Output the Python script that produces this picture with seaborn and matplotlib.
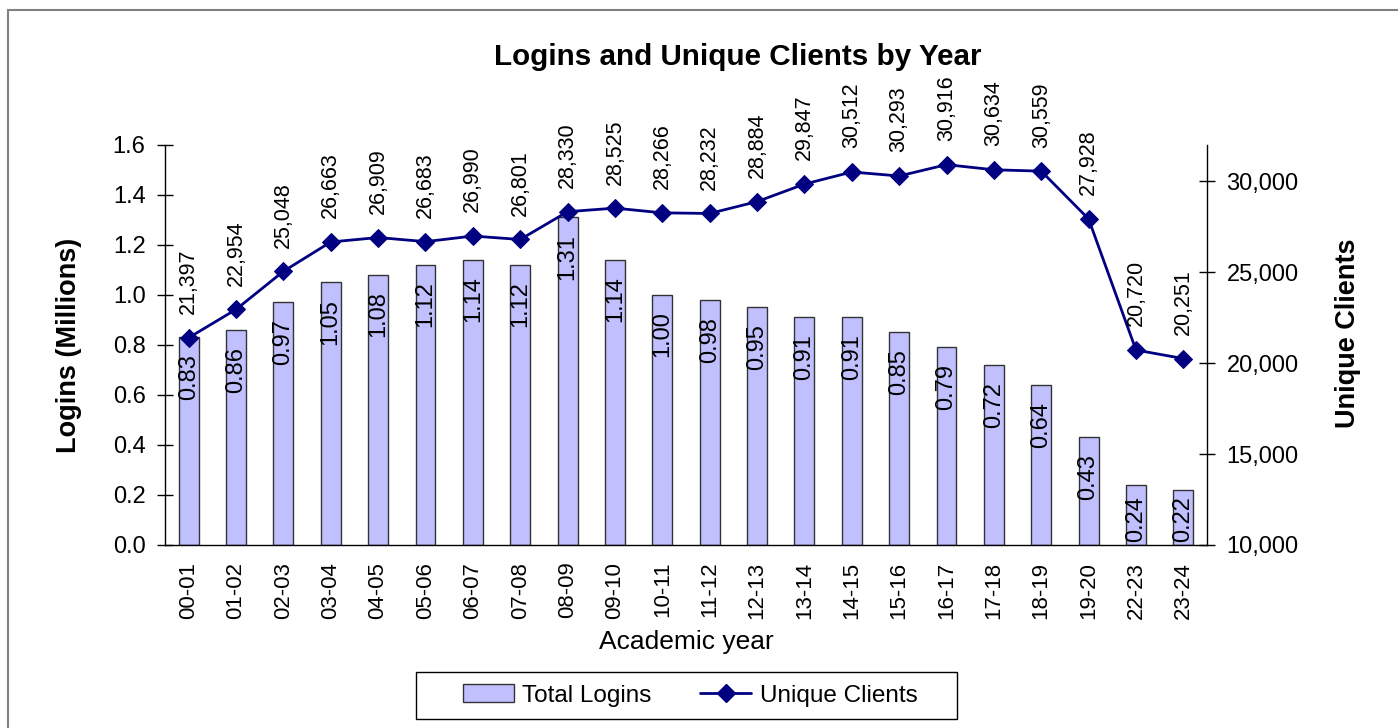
import numpy as np
import pandas as pd
import matplotlib.pyplot as plt
import seaborn as sns
from matplotlib.patches import Rectangle, Patch
from matplotlib.lines import Line2D

# data
years = ['00-01', '01-02', '02-03', '03-04', '04-05', '05-06', '06-07', '07-08',
         '08-09', '09-10', '10-11', '11-12', '12-13', '13-14', '14-15', '15-16',
         '16-17', '17-18', '18-19', '19-20', '22-23', '23-24']
logins = [0.83, 0.86, 0.97, 1.05, 1.08, 1.12, 1.14, 1.12, 1.31, 1.14, 1.00,
          0.98, 0.95, 0.91, 0.91, 0.85, 0.79, 0.72, 0.64, 0.43, 0.24, 0.22]
clients = [21397, 22954, 25048, 26663, 26909, 26683, 26990, 26801, 28330, 28525,
           28266, 28232, 28884, 29847, 30512, 30293, 30916, 30634, 30559, 27928,
           20720, 20251]

df = pd.DataFrame({'year': years, 'logins': logins, 'clients': clients})
df['pos'] = np.arange(len(df))

bar_color = '#C0C0FF'
line_color = '#000080'

sns.set_style('white')
plt.rcParams['font.family'] = ['Liberation Sans', 'DejaVu Sans']
plt.rcParams['text.color'] = 'black'
plt.rcParams['axes.labelcolor'] = 'black'
plt.rcParams['xtick.color'] = 'black'
plt.rcParams['ytick.color'] = 'black'

fig = plt.figure(figsize=(13.98, 7.28), dpi=100)
ax = fig.add_axes([0.118, 0.2514, 0.7454, 0.5495])

# bars for total logins
sns.barplot(data=df, x='year', y='logins', color=bar_color, saturation=1,
            edgecolor='#333333', linewidth=1, width=0.42, ax=ax)
for i, v in enumerate(logins):
    if v < 0.3:
        # short bars: label sits on the base so it stays inside the bar
        ax.annotate(f'{v:.2f}', (i, 0), xytext=(0, 2), textcoords='offset points',
                    rotation=90, ha='center', va='bottom', fontsize=17)
    else:
        ax.annotate(f'{v:.2f}', (i, v), xytext=(0, -12), textcoords='offset points',
                    rotation=90, ha='center', va='top', fontsize=17)

ax.set_ylim(0, 1.6)
ax.set_yticks(np.arange(0, 1.61, 0.2))
ax.set_yticklabels([f'{t:.1f}' for t in np.arange(0, 1.61, 0.2)], fontsize=17)
ax.set_xlim(-0.5, len(years) - 0.5)
ax.set_xticks(range(len(years)))
ax.set_xticklabels(years, rotation=90, fontsize=16)
ax.set_xticks(np.arange(-0.5, len(years), 1), minor=True)
ax.tick_params(axis='x', which='major', length=0, pad=12)
ax.tick_params(axis='x', which='minor', length=12, direction='inout', width=1)
ax.tick_params(axis='y', length=12, direction='inout', width=1, pad=8)

ax.set_ylabel('Logins (Millions)', fontsize=19.5, weight='bold', va='center')
ax.yaxis.set_label_coords(-0.092, 0.5)
ax.set_xlabel('Academic year', fontsize=19, va='center')
ax.xaxis.set_label_coords(0.5, -0.2425)

# line for unique clients on the right axis
ax2 = ax.twinx()
sns.lineplot(data=df, x='pos', y='clients', color=line_color, marker='D',
             markersize=9, markeredgecolor=line_color, linewidth=2, ax=ax2)
for i, v in enumerate(clients):
    ax2.annotate(f'{v:,}', (i, v), xytext=(0, 17), textcoords='offset points',
                 rotation=90, ha='center', va='bottom', fontsize=15.5)

ax2.set_ylim(10000, 32000)
ax2.set_yticks(range(10000, 30001, 5000))
ax2.set_yticklabels([f'{t:,}' for t in range(10000, 30001, 5000)], fontsize=17)
ax2.tick_params(axis='y', length=12, direction='inout', width=1, pad=8)
ax2.set_xlim(-0.5, len(years) - 0.5)
ax2.set_ylabel('Unique Clients', fontsize=19.5, weight='bold', va='center')
ax2.yaxis.set_label_coords(1.135, 0.53)

for a in (ax, ax2):
    a.spines['top'].set_visible(False)
    for s in ('left', 'right', 'bottom'):
        a.spines[s].set_color('black')
        a.spines[s].set_linewidth(1)
ax.spines['right'].set_visible(False)
ax2.spines['left'].set_visible(False)
ax2.spines['bottom'].set_visible(False)

fig.text(0.528, 0.922, 'Logins and Unique Clients by Year', ha='center',
         va='center', fontsize=21.3, weight='bold')

# legend without its own frame, box drawn separately to match the wide padding
handles = [Patch(facecolor=bar_color, edgecolor='#333333'),
           Line2D([], [], color=line_color, marker='D', markersize=9, linewidth=2)]
fig.legend(handles, ['Total Logins', 'Unique Clients'], loc='center',
           bbox_to_anchor=(690 / 1398, 1 - 695.5 / 728), ncol=2, frameon=False,
           fontsize=17.5, handlelength=2.1, handletextpad=0.35,
           columnspacing=2.0)
fig.add_artist(Rectangle((416 / 1398, 1 - 719 / 728), 541 / 1398, 47 / 728,
                         transform=fig.transFigure, fill=False,
                         edgecolor='black', linewidth=1))

# chart area border
fig.add_artist(Rectangle((8 / 1398, -0.5), 2, 0.986 + 0.5,
                         transform=fig.transFigure, fill=False,
                         edgecolor='#808080', linewidth=1.5))

fig.savefig('out.png', dpi=100)
